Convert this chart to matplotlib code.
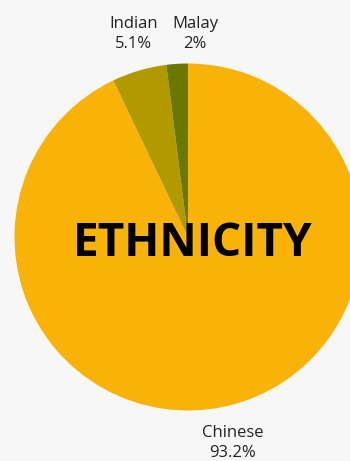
import matplotlib
matplotlib.use("Agg")
import matplotlib.pyplot as plt

# data
groups = ["Chinese", "Indian", "Malay"]
shares = [93.2, 5.1, 2.0]
pct_text = ["93.2%", "5.1%", "2%"]
colors = ["#f9b208", "#b09a00", "#6a7800"]

W, H = 350, 461
fig = plt.figure(figsize=(W / 100, H / 100), dpi=100, facecolor="#f7f7f7")
ax = fig.add_axes([0, 0, 1, 1])

ax.pie(shares, colors=colors, startangle=90, counterclock=False,
       center=(188, H - 237), radius=173.5, frame=True,
       wedgeprops=dict(linewidth=0))
ax.set_xlim(0, W)
ax.set_ylim(0, H)
ax.set_aspect("equal")
ax.axis("off")

# outside labels (pixel positions from the top)
label_pos = {"Chinese": (233, 443), "Indian": (134, 34), "Malay": (195, 34)}
for g, p in zip(groups, pct_text):
    x, y = label_pos[g]
    ax.text(x, H - y, g + "\n" + p, ha="center", va="center",
            fontsize=12, family="Open Sans", color="#222222",
            linespacing=1.4)

ax.text(193, H - 243, "ETHNICITY", ha="center", va="center",
        fontsize=33, fontweight="bold", family="Open Sans", color="black")

fig.savefig("out.png", dpi=100, facecolor=fig.get_facecolor())
